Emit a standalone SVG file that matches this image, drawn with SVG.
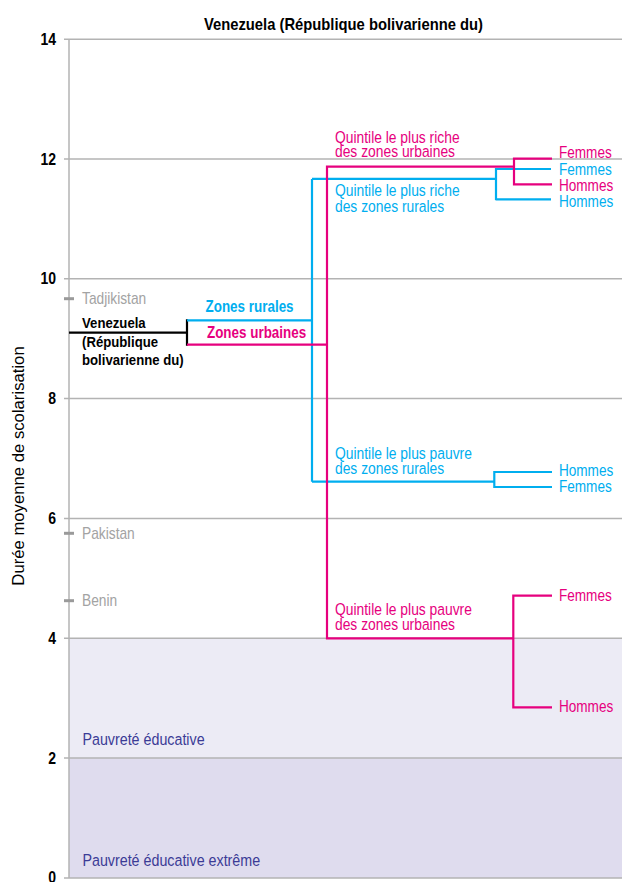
<svg xmlns="http://www.w3.org/2000/svg" width="622" height="882" viewBox="0 0 622 882">
<style>
text{font-family:"Liberation Sans",Arial,sans-serif;}
.tick{font-size:16.5px;font-weight:bold;fill:#000;text-anchor:end;}
.grid{stroke:#b3b3b3;stroke-width:1.5;fill:none;}
.ctry{font-size:16.2px;fill:#a3a3a3;}
.ctk{stroke:#9a9a9a;stroke-width:3;}
.pk{stroke:#e6007e;stroke-width:2.2;fill:none;}
.bl{stroke:#00aeef;stroke-width:2.2;fill:none;}
.bk{stroke:#000;stroke-width:2.2;fill:none;}
.tp{font-size:16.3px;fill:#e6007e;}
.tb{font-size:16.3px;fill:#00aeef;}
.sp{font-size:16px;}
.band{font-size:16.8px;fill:#3b3b96;}
.vz{font-size:15.5px;font-weight:bold;fill:#000;}
.zn{font-size:15.8px;font-weight:bold;}
</style>
<rect width="622" height="882" fill="#fff"/>
<g id="bands">
<rect x="69" y="638.3" width="553" height="119.8" fill="#ecebf5"/>
<rect x="69" y="758.1" width="553" height="119.9" fill="#dfdcee"/>
</g>
<g id="grid">
<line class="grid" x1="64" y1="39.3" x2="622" y2="39.3"/>
<line class="grid" x1="64" y1="159" x2="622" y2="159"/>
<line class="grid" x1="64" y1="278.7" x2="622" y2="278.7"/>
<line class="grid" x1="64" y1="398.6" x2="622" y2="398.6"/>
<line class="grid" x1="64" y1="518.4" x2="622" y2="518.4"/>
<line class="grid" x1="64" y1="638.3" x2="622" y2="638.3"/>
<line class="grid" x1="64" y1="758.1" x2="622" y2="758.1"/>
<line class="grid" x1="64" y1="878" x2="622" y2="878"/>
<line class="grid" x1="69" y1="39.3" x2="69" y2="878"/>
</g>
<g id="axis-labels">
<g transform="scale(0.85 1)">
<text class="tick" x="65.9" y="45">14</text>
<text class="tick" x="65.9" y="164.8">12</text>
<text class="tick" x="65.9" y="284.5">10</text>
<text class="tick" x="65.9" y="404.4">8</text>
<text class="tick" x="65.9" y="524.2">6</text>
<text class="tick" x="65.9" y="644">4</text>
<text class="tick" x="65.9" y="763.9">2</text>
<text class="tick" x="65.9" y="883">0</text>
<text x="404.1" y="30" text-anchor="middle" style="font-size:17.4px;font-weight:bold;fill:#000">Venezuela (République bolivarienne du)</text>
</g>
<text x="24" y="466" transform="rotate(-90 24 466)" text-anchor="middle" style="font-size:16.7px;fill:#000">Durée moyenne de scolarisation</text>
</g>
<g id="countries">
<line class="ctk" x1="64" y1="298.7" x2="74" y2="298.7"/>
<line class="ctk" x1="64" y1="533.3" x2="74" y2="533.3"/>
<line class="ctk" x1="64" y1="600.7" x2="74" y2="600.7"/>
<g transform="scale(0.85 1)">
<text class="ctry" x="96.5" y="304.5">Tadjikistan</text>
<text class="ctry" x="96.5" y="539">Pakistan</text>
<text class="ctry" x="96.5" y="606.5">Benin</text>
</g>
</g>
<g id="bands-labels" transform="scale(0.85 1)">
<text class="band" x="97" y="745.5">Pauvreté éducative</text>
<text class="band" x="97" y="866">Pauvreté éducative extrême</text>
</g>
<g id="connectors">
<path class="bk" d="M69 332.7 H187 M187 319.3 V345.7"/>
<path class="bl" d="M187 320.3 H312 M312 178.9 V481.7 M312 178.9 H496 M496 168 V200.3 M496 169 H551 M496 199.3 H551 M312 481.7 H494.3 M494.3 471 V488 M494.3 472 H552 M494.3 487 H552"/>
<path class="pk" d="M187 344.7 H327 M327 165.6 V639.4 M327 166.7 H514 M514 157.6 V185.4 M514 158.7 H552 M514 184.3 H552 M327 638.3 H513.3 M513.3 594.6 V708.4 M513.3 595.7 H552 M513.3 707.3 H552"/>
</g>
<g id="node-venezuela" transform="scale(0.85 1)">
<text class="vz" x="96.5" y="328.5">Venezuela</text>
<text class="vz" x="96.5" y="347">(République</text>
<text class="vz" x="96.5" y="365.5">bolivarienne du)</text>
</g>
<g id="node-rural" transform="scale(0.85 1)">
<text class="zn" x="241.8" y="312.5" fill="#00aeef">Zones rurales</text>
</g>
<g id="node-urban" transform="scale(0.85 1)">
<text class="zn" x="243.5" y="338" fill="#e6007e">Zones urbaines</text>
</g>
<g id="node-urban-rich" transform="scale(0.85 1)">
<text class="tp" x="394.1" y="143">Quintile le plus riche</text>
<text class="tp" x="394.1" y="157.5">des zones urbaines</text>
<text class="tp sp" x="657.6" y="158.3">Femmes</text>
<text class="tp sp" x="657.6" y="190.7">Hommes</text>
</g>
<g id="node-rural-rich" transform="scale(0.85 1)">
<text class="tb" x="394.1" y="196.5">Quintile le plus riche</text>
<text class="tb" x="394.1" y="211.7">des zones rurales</text>
<text class="tb sp" x="657.6" y="175">Femmes</text>
<text class="tb sp" x="657.6" y="206.7">Hommes</text>
</g>
<g id="node-rural-poor" transform="scale(0.85 1)">
<text class="tb" x="394.1" y="459">Quintile le plus pauvre</text>
<text class="tb" x="394.1" y="474">des zones rurales</text>
<text class="tb sp" x="657.6" y="476">Hommes</text>
<text class="tb sp" x="657.6" y="492.5">Femmes</text>
</g>
<g id="node-urban-poor" transform="scale(0.85 1)">
<text class="tp" x="394.1" y="615">Quintile le plus pauvre</text>
<text class="tp" x="394.1" y="630">des zones urbaines</text>
<text class="tp sp" x="657.6" y="600.7">Femmes</text>
<text class="tp sp" x="657.6" y="711.7">Hommes</text>
</g>
</svg>
